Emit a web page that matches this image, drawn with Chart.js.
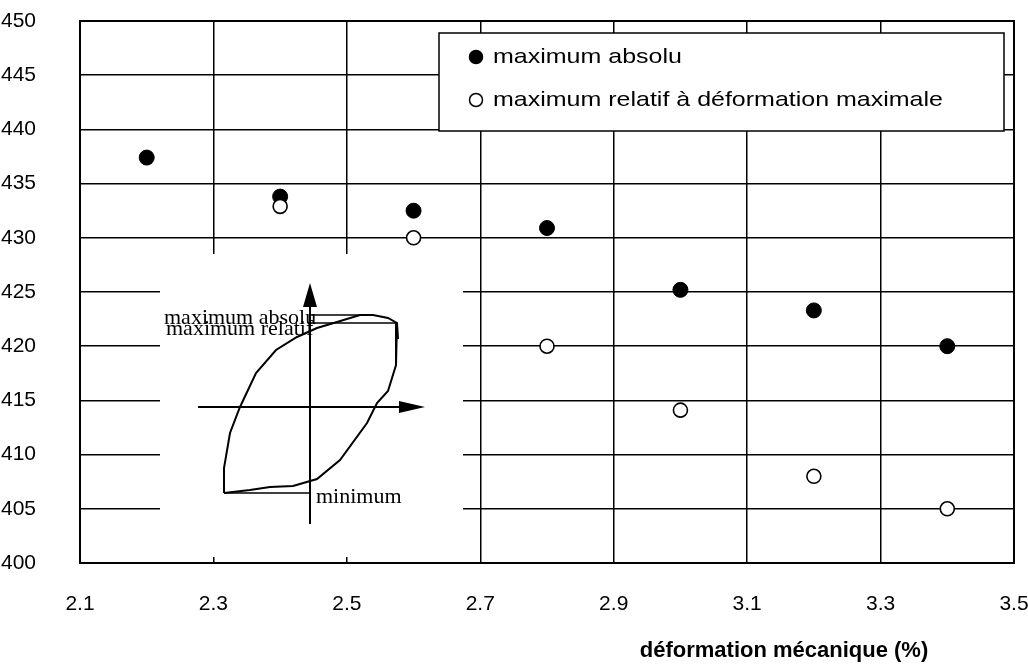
<!DOCTYPE html>
<html>
<head>
<meta charset="utf-8">
<script src="https://cdn.jsdelivr.net/npm/chart.js@4/dist/chart.umd.min.js"></script>
<style>
  html, body { margin: 0; padding: 0; background: #fff; overflow: hidden; }
  #wrap { position: relative; width: 1040px; height: 666px; }
  #main { position: absolute; left: 0; top: 0; }
  #inset { position: absolute; left: 160px; top: 254px; background: #fff; }
</style>
</head>
<body>
<div id="wrap">
  <canvas id="main" width="1040" height="666"></canvas>
  <canvas id="inset" width="303" height="303"></canvas>
</div>
<script>
// Strain (%) values and peak stresses
const strainAbs = [2.2, 2.4, 2.6, 2.8, 3.0, 3.2, 3.4];
const stressAbs = [437.4, 433.8, 432.5, 430.9, 425.2, 423.3, 420.0];
const strainRel = [2.4, 2.6, 2.8, 3.0, 3.2, 3.4];
const stressRel = [432.9, 430.0, 420.0, 414.1, 408.0, 405.0];

const xTickValues = [2.1, 2.3, 2.5, 2.7, 2.9, 3.1, 3.3, 3.5];
const seriesLabels = ['maximum absolu', 'maximum relatif à déformation maximale'];
const xTitle = 'déformation mécanique (%)';

// Sketch of the hysteresis loop (inset), arbitrary units
const loopX = [-8.6, -8.6, -8.0, -7.0, -5.4, -3.4, -1.3, 0.7, 2.7, 5.0, 6.3, 7.8, 8.7, 8.6, 7.8, 6.7, 5.7, 3.0, 0.7, -1.7, -4.0, -6.0, -8.6];
const loopY = [-8.6, -6.1, -2.6, 0.0, 3.4, 5.7, 7.0, 7.9, 8.5, 9.2, 9.2, 8.9, 8.4, 4.2, 1.6, 0.4, -1.6, -5.3, -7.2, -7.9, -8.0, -8.3, -8.6];
const tailX = [8.7, 8.8];
const tailY = [8.4, 6.8];
const maxAbsLineX = [0, 6.3];
const maxAbsLineY = [9.2, 9.2];
const maxRelLineX = [0, 8.7];
const maxRelLineY = [8.4, 8.4];
const minLineX = [-8.6, 0];
const minLineY = [-8.6, -8.6];
const vAxisX = [0, 0];
const vAxisY = [-11.7, 10.6];
const hAxisX = [-11.2, 9.4];
const hAxisY = [0, 0];
const insetTexts = ['maximum absolu', 'maximum relatif', 'minimum'];
const insetTextX = [-14.6, -14.4, 0.6];
const insetTextY = [8.3, 7.2, -9.6];

function pts(xs, ys) {
    return xs.map((x, i) => ({ x: x, y: ys[i] }));
}

// Frame, boxed legend and axis title for the main chart
const mainDecor = {
    id: 'mainDecor',
    afterDatasetsDraw(chart) {
        const ctx = chart.ctx;
        const a = chart.chartArea;
        ctx.save();
        ctx.strokeStyle = '#000';
        ctx.lineWidth = 2;
        ctx.strokeRect(a.left, a.top, a.right - a.left, a.bottom - a.top);

        // legend box
        ctx.fillStyle = '#fff';
        ctx.fillRect(439, 33, 565, 98);
        ctx.lineWidth = 1.5;
        ctx.strokeRect(439, 33, 565, 98);

        const rows = [57, 100];
        rows.forEach((y, i) => {
            ctx.beginPath();
            ctx.arc(476, y, 6.5, 0, Math.PI * 2);
            ctx.fillStyle = i === 0 ? '#000' : '#fff';
            ctx.fill();
            ctx.lineWidth = 1.5;
            ctx.strokeStyle = '#000';
            ctx.stroke();

            ctx.save();
            ctx.translate(493, y + 6);
            ctx.scale(1.19, 1);
            ctx.fillStyle = '#000';
            ctx.font = '21px "Liberation Sans", Arial, sans-serif';
            ctx.textBaseline = 'alphabetic';
            ctx.fillText(seriesLabels[i], 0, 0);
            ctx.restore();
        });

        // x axis title
        ctx.fillStyle = '#000';
        ctx.font = 'bold 22px "Liberation Sans", Arial, sans-serif';
        ctx.textAlign = 'center';
        ctx.textBaseline = 'middle';
        ctx.fillText(xTitle, 784, 651);
        ctx.restore();
    }
};

new Chart(document.getElementById('main'), {
    type: 'scatter',
    data: {
        datasets: [
            {
                label: seriesLabels[0],
                data: pts(strainAbs, stressAbs),
                backgroundColor: '#000',
                borderColor: '#000',
                borderWidth: 1,
                pointRadius: 7.5,
                order: 2
            },
            {
                label: seriesLabels[1],
                data: pts(strainRel, stressRel),
                backgroundColor: '#fff',
                borderColor: '#000',
                borderWidth: 1.6,
                pointRadius: 7,
                order: 1
            }
        ]
    },
    options: {
        responsive: false,
        animation: false,
        devicePixelRatio: 1,
        layout: { padding: { left: 1, right: 26, top: 21, bottom: 49 } },
        scales: {
            x: {
                type: 'linear',
                min: 2.1,
                max: 3.5,
                afterBuildTicks: s => { s.ticks = xTickValues.map(v => ({ value: v })); },
                afterFit: s => { s.height = 54; s.paddingLeft = 0; s.paddingRight = 0; },
                ticks: {
                    color: '#000',
                    padding: 29,
                    maxRotation: 0,
                    font: { family: '"Liberation Sans", Arial, sans-serif', size: 21 },
                    callback: v => v.toFixed(1)
                },
                grid: { color: '#000', lineWidth: 1.5, drawTicks: false },
                border: { color: '#000', width: 2 }
            },
            y: {
                min: 400,
                max: 450,
                afterFit: s => { s.width = 79; s.paddingTop = 0; s.paddingBottom = 0; },
                ticks: {
                    color: '#000',
                    stepSize: 5,
                    padding: 44,
                    font: { family: '"Liberation Sans", Arial, sans-serif', size: 21 }
                },
                grid: { color: '#000', lineWidth: 1.5, drawTicks: false },
                border: { color: '#000', width: 2 }
            }
        },
        plugins: {
            legend: { display: false },
            tooltip: { enabled: false }
        }
    },
    plugins: [mainDecor]
});

// Arrowheads and serif labels for the inset sketch
const insetDecor = {
    id: 'insetDecor',
    afterDatasetsDraw(chart) {
        const ctx = chart.ctx;
        const sx = chart.scales.x;
        const sy = chart.scales.y;
        ctx.save();
        ctx.fillStyle = '#000';

        // vertical arrow
        let tx = sx.getPixelForValue(0), ty = sy.getPixelForValue(12.4), by = sy.getPixelForValue(10.0);
        ctx.beginPath();
        ctx.moveTo(tx, ty);
        ctx.lineTo(tx - 7, by);
        ctx.lineTo(tx + 7, by);
        ctx.closePath();
        ctx.fill();

        // horizontal arrow
        tx = sx.getPixelForValue(11.5);
        ty = sy.getPixelForValue(0);
        const bx = sx.getPixelForValue(8.9);
        ctx.beginPath();
        ctx.moveTo(tx, ty);
        ctx.lineTo(bx, ty - 6);
        ctx.lineTo(bx, ty + 6);
        ctx.closePath();
        ctx.fill();

        ctx.font = '22px "Liberation Serif", "Times New Roman", serif';
        ctx.textBaseline = 'alphabetic';
        insetTexts.forEach((t, i) => {
            ctx.fillText(t, sx.getPixelForValue(insetTextX[i]), sy.getPixelForValue(insetTextY[i]));
        });
        ctx.restore();
    }
};

function insetLine(xs, ys, w) {
    return {
        data: pts(xs, ys),
        showLine: true,
        borderColor: '#000',
        borderWidth: w,
        pointRadius: 0,
        tension: 0,
        fill: false
    };
}

new Chart(document.getElementById('inset'), {
    type: 'scatter',
    data: {
        datasets: [
            insetLine(loopX, loopY, 2),
            insetLine(tailX, tailY, 2),
            insetLine(maxAbsLineX, maxAbsLineY, 1.5),
            insetLine(maxRelLineX, maxRelLineY, 1.5),
            insetLine(minLineX, minLineY, 1.5),
            insetLine(vAxisX, vAxisY, 2),
            insetLine(hAxisX, hAxisY, 2)
        ]
    },
    options: {
        responsive: false,
        animation: false,
        devicePixelRatio: 1,
        layout: { padding: 0 },
        scales: {
            x: { type: 'linear', display: false, min: -15, max: 15.3 },
            y: { type: 'linear', display: false, min: -15, max: 15.3 }
        },
        plugins: {
            legend: { display: false },
            tooltip: { enabled: false }
        }
    },
    plugins: [insetDecor]
});
</script>
</body>
</html>
